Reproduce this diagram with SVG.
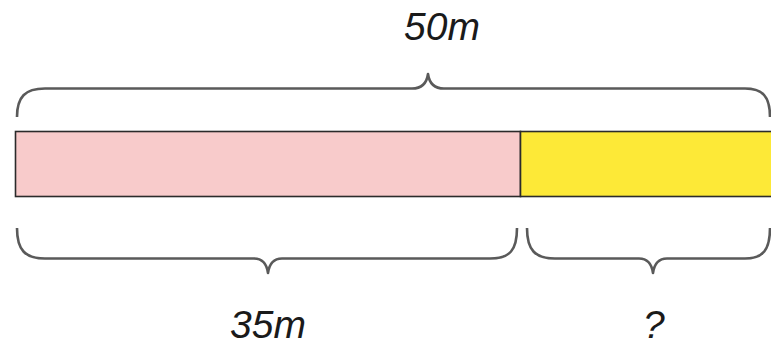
<svg xmlns="http://www.w3.org/2000/svg" width="771" height="345" viewBox="0 0 771 345">
<style>
.brace{fill:none;stroke:#5a5a5a;stroke-width:2.6;stroke-linecap:butt;stroke-linejoin:round}
.bar{stroke:#2b2b2b;stroke-width:1.6}
.lbl{font-family:"Liberation Sans",Arial,sans-serif;font-style:italic;font-size:39px;fill:#1a1a1a}
</style>
<rect width="771" height="345" fill="#ffffff"/>
<g id="bar-35">
<rect class="bar" x="15.5" y="131.5" width="505" height="65" fill="#f8cbcb"/>
</g>
<g id="bar-rest">
<rect class="bar" x="520.5" y="131.5" width="260" height="65" fill="#fde937"/>
</g>
<g id="connectors">
<path class="brace" d="M17,117 C17,97 25,88.5 45,88.5 H412 Q426,88.5 428,74 Q430,88.5 444,88.5 H745 C763,88.5 770,97 770,117"/>
<path class="brace" d="M17,228 C17,250 25,258.5 45,258.5 H254 Q266,258.5 268,273 Q270,258.5 282,258.5 H490 C510,258.5 517,250 517,228"/>
<path class="brace" d="M527,228 C527,250 535,258.5 555,258.5 H639 Q651,258.5 653,273 Q655,258.5 667,258.5 H745 C763,258.5 770,250 770,228"/>
</g>
<g id="label-50m"><text class="lbl" x="404" y="40">50m</text></g>
<g id="label-35m"><text class="lbl" x="230" y="338">35m</text></g>
<g id="label-q"><text class="lbl" x="643" y="338">?</text></g>
</svg>
